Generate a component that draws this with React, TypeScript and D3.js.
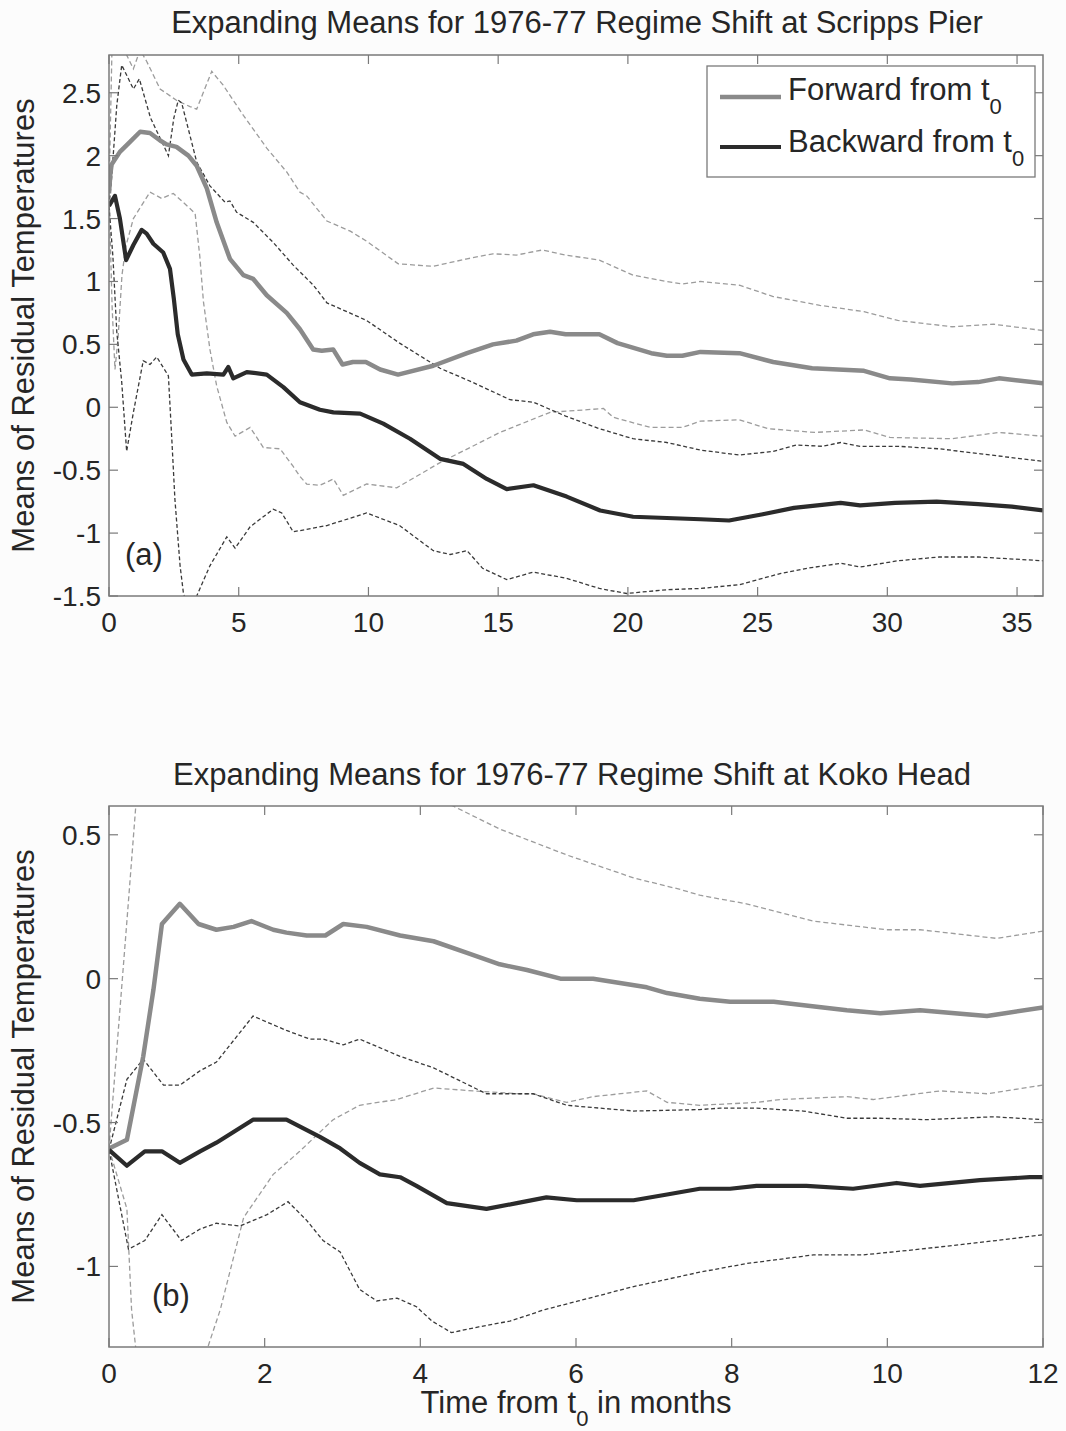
import React from "react";
import * as d3 from "d3";

type P = [number, number];

// ---------- Panel (a): Scripps Pier ----------
const scrippsXTicks = [0, 5, 10, 15, 20, 25, 30, 35];
const scrippsYTicks = [-1.5, -1, -0.5, 0, 0.5, 1, 1.5, 2, 2.5];

const scrippsForwardMean: P[] = [[0,1.70],[0.05,1.85],[0.1,1.93],[0.42,2.03],[0.81,2.11],[1.2,2.19],[1.58,2.18],[1.97,2.12],[2.22,2.09],[2.6,2.07],[3.06,2.0],[3.38,1.92],[3.77,1.74],[4.15,1.47],[4.66,1.18],[5.18,1.05],[5.56,1.02],[6.08,0.89],[6.85,0.75],[7.36,0.62],[7.87,0.46],[8.2,0.45],[8.64,0.46],[9.0,0.34],[9.4,0.36],[9.9,0.36],[10.45,0.30],[11.14,0.26],[12.5,0.33],[13.8,0.43],[14.8,0.50],[15.7,0.53],[16.35,0.58],[17.0,0.60],[17.6,0.58],[18.9,0.58],[19.6,0.51],[20.9,0.43],[21.5,0.41],[22.1,0.41],[22.8,0.44],[24.3,0.43],[25.6,0.36],[27.1,0.31],[29.1,0.29],[30.1,0.23],[30.9,0.22],[32.5,0.19],[33.5,0.20],[34.3,0.23],[36,0.19]];
const scrippsBackwardMean: P[] = [[0,1.60],[0.23,1.68],[0.42,1.50],[0.66,1.17],[0.94,1.29],[1.26,1.41],[1.45,1.38],[1.71,1.30],[2.09,1.23],[2.35,1.10],[2.5,0.86],[2.65,0.58],[2.87,0.38],[3.19,0.26],[3.77,0.27],[4.41,0.26],[4.6,0.32],[4.79,0.23],[5.31,0.28],[6.08,0.26],[6.72,0.16],[7.36,0.04],[8.13,-0.02],[8.65,-0.04],[9.68,-0.05],[10.57,-0.13],[11.6,-0.25],[12.76,-0.41],[13.66,-0.45],[14.56,-0.57],[15.33,-0.65],[16.36,-0.62],[17.64,-0.71],[18.93,-0.82],[20.2,-0.87],[21.5,-0.88],[22.8,-0.89],[23.9,-0.90],[25.2,-0.85],[26.4,-0.80],[28.2,-0.76],[28.95,-0.78],[30.3,-0.76],[31.9,-0.75],[33.5,-0.77],[34.8,-0.79],[36,-0.82]];
const scrippsForwardUpper: P[] = [[0,1.70],[0.15,3.2],[0.5,3.0],[0.68,2.8],[0.94,2.69],[1.2,2.84],[1.45,2.75],[1.97,2.53],[2.6,2.44],[3.12,2.39],[3.38,2.37],[3.96,2.67],[4.4,2.56],[5.18,2.32],[6.08,2.06],[6.85,1.87],[7.36,1.71],[7.62,1.68],[8.4,1.48],[9.3,1.40],[9.93,1.32],[11.15,1.14],[12.5,1.12],[13.8,1.18],[14.8,1.22],[15.7,1.21],[16.7,1.25],[17.6,1.21],[18.9,1.17],[20.2,1.05],[21.5,1.0],[22.1,0.98],[22.8,1.0],[24.3,0.97],[25.6,0.88],[27.4,0.81],[29.1,0.76],[30.4,0.69],[32.5,0.64],[34.1,0.66],[36,0.61]];
const scrippsForwardLower: P[] = [[0,1.70],[0.12,0.8],[0.23,0.3],[0.35,0.55],[0.5,1.05],[0.65,1.28],[0.94,1.50],[1.58,1.71],[2.03,1.66],[2.48,1.70],[3.12,1.58],[3.32,1.54],[3.5,1.2],[3.64,0.84],[3.89,0.46],[4.15,0.17],[4.54,-0.12],[4.86,-0.23],[5.44,-0.16],[5.95,-0.32],[6.59,-0.33],[7.1,-0.47],[7.36,-0.55],[7.62,-0.61],[8.13,-0.62],[8.65,-0.57],[9.03,-0.70],[9.93,-0.61],[11.09,-0.64],[12.76,-0.44],[15.07,-0.20],[17.0,-0.04],[19.06,-0.01],[19.44,-0.08],[20.86,-0.16],[22.1,-0.16],[22.8,-0.11],[24.3,-0.10],[25.4,-0.17],[27.2,-0.20],[29.1,-0.18],[30.1,-0.24],[32.5,-0.25],[34.3,-0.20],[36,-0.23]];
const scrippsBackwardUpper: P[] = [[0,1.60],[0.1,1.82],[0.3,2.4],[0.49,2.72],[0.94,2.53],[1.17,2.61],[1.6,2.3],[2.29,2.0],[2.5,2.3],[2.67,2.44],[2.8,2.42],[3.38,1.95],[3.89,1.76],[4.47,1.63],[4.66,1.64],[4.92,1.55],[5.56,1.47],[6.33,1.31],[7.1,1.13],[7.88,0.97],[8.4,0.83],[9.93,0.69],[11.2,0.51],[12.76,0.31],[14.0,0.20],[15.46,0.06],[16.36,0.04],[17.6,-0.07],[18.9,-0.17],[20.2,-0.25],[21.5,-0.28],[22.8,-0.34],[24.3,-0.38],[25.6,-0.35],[26.5,-0.30],[27.5,-0.31],[28.2,-0.28],[28.95,-0.31],[30.4,-0.31],[32.0,-0.33],[33.6,-0.37],[36,-0.43]];
const scrippsBackwardLower: P[] = [[0,1.60],[0.15,1.2],[0.3,0.6],[0.49,0.2],[0.68,-0.35],[0.94,-0.04],[1.32,0.37],[1.58,0.34],[1.84,0.40],[2.29,0.25],[2.42,-0.25],[2.54,-0.73],[2.74,-1.26],[2.87,-1.48],[3.1,-1.62],[3.38,-1.50],[3.89,-1.26],[4.54,-1.03],[4.86,-1.12],[5.44,-0.95],[6.33,-0.81],[6.66,-0.84],[7.1,-0.99],[7.62,-0.97],[8.4,-0.94],[9.93,-0.84],[11.2,-0.94],[12.5,-1.14],[13.15,-1.17],[13.8,-1.14],[14.4,-1.28],[15.33,-1.37],[16.36,-1.31],[17.64,-1.36],[18.9,-1.44],[19.95,-1.48],[21.5,-1.45],[22.8,-1.44],[24.3,-1.41],[25.9,-1.32],[26.9,-1.28],[28.2,-1.24],[28.95,-1.27],[30.4,-1.22],[32.0,-1.19],[33.5,-1.19],[36,-1.22]];

// ---------- Panel (b): Koko Head ----------
const kokoXTicks = [0, 2, 4, 6, 8, 10, 12];
const kokoYTicks = [-1, -0.5, 0, 0.5];

const kokoForwardMean: P[] = [[0,-0.59],[0.23,-0.56],[0.44,-0.27],[0.57,-0.04],[0.68,0.19],[0.91,0.26],[1.15,0.19],[1.38,0.17],[1.6,0.18],[1.83,0.20],[2.11,0.17],[2.28,0.16],[2.54,0.15],[2.78,0.15],[3.01,0.19],[3.31,0.18],[3.74,0.15],[4.17,0.13],[4.6,0.09],[5.02,0.05],[5.37,0.03],[5.8,0.0],[6.22,0.0],[6.91,-0.03],[7.17,-0.05],[7.59,-0.07],[7.98,-0.08],[8.54,-0.08],[9.48,-0.11],[9.91,-0.12],[10.42,-0.11],[11.28,-0.13],[12,-0.10]];
const kokoBackwardMean: P[] = [[0,-0.595],[0.23,-0.65],[0.46,-0.60],[0.68,-0.60],[0.91,-0.64],[1.17,-0.60],[1.38,-0.57],[1.85,-0.49],[2.28,-0.49],[2.71,-0.55],[2.97,-0.59],[3.22,-0.64],[3.48,-0.68],[3.74,-0.69],[3.95,-0.72],[4.34,-0.78],[4.85,-0.80],[5.24,-0.78],[5.62,-0.76],[6.01,-0.77],[6.74,-0.77],[7.17,-0.75],[7.59,-0.73],[7.98,-0.73],[8.32,-0.72],[8.96,-0.72],[9.56,-0.73],[10.12,-0.71],[10.42,-0.72],[11.19,-0.70],[11.83,-0.69],[12,-0.69]];
const kokoForwardUpper: P[] = [[0,-0.59],[0.23,0.2],[0.35,0.62],[0.46,0.95],[0.68,1.5],[0.91,1.6],[1.17,1.5],[1.43,1.45],[2.0,1.1],[2.5,0.9],[3.0,0.8],[3.5,0.72],[4.0,0.65],[4.42,0.60],[5.02,0.52],[5.88,0.43],[6.74,0.35],[7.34,0.31],[7.59,0.29],[8.19,0.26],[9.05,0.20],[9.99,0.17],[10.42,0.17],[11.4,0.14],[12,0.165]];
const kokoForwardLower: P[] = [[0,-0.59],[0.23,-0.8],[0.29,-1.15],[0.35,-1.3],[0.5,-1.9],[1.0,-1.9],[1.27,-1.28],[1.43,-1.15],[1.73,-0.83],[2.11,-0.68],[2.45,-0.60],[2.88,-0.49],[3.22,-0.44],[3.7,-0.42],[4.17,-0.38],[4.68,-0.39],[5.28,-0.40],[5.45,-0.40],[5.88,-0.43],[6.22,-0.41],[6.91,-0.39],[7.17,-0.43],[7.59,-0.44],[8.32,-0.43],[8.62,-0.42],[9.48,-0.41],[9.82,-0.42],[10.68,-0.39],[11.28,-0.40],[12,-0.37]];
const kokoBackwardUpper: P[] = [[0,-0.595],[0.23,-0.35],[0.44,-0.28],[0.7,-0.37],[0.91,-0.37],[1.17,-0.32],[1.38,-0.29],[1.85,-0.13],[2.28,-0.18],[2.58,-0.21],[2.75,-0.21],[3.01,-0.23],[3.22,-0.21],[3.74,-0.27],[4.17,-0.31],[4.85,-0.40],[5.45,-0.40],[5.88,-0.44],[6.74,-0.46],[7.59,-0.455],[7.85,-0.45],[8.32,-0.45],[8.92,-0.46],[9.48,-0.485],[9.91,-0.485],[10.5,-0.49],[11.36,-0.48],[12,-0.49]];
const kokoBackwardLower: P[] = [[0,-0.595],[0.25,-0.94],[0.46,-0.91],[0.68,-0.82],[0.93,-0.91],[1.17,-0.87],[1.38,-0.85],[1.68,-0.86],[2.03,-0.82],[2.3,-0.775],[2.54,-0.84],[2.75,-0.91],[2.97,-0.95],[3.22,-1.08],[3.44,-1.12],[3.7,-1.11],[3.95,-1.14],[4.15,-1.19],[4.4,-1.23],[4.75,-1.21],[5.15,-1.19],[5.6,-1.15],[6.03,-1.12],[6.74,-1.07],[7.59,-1.02],[8.19,-0.99],[9.05,-0.96],[9.69,-0.96],[10.42,-0.94],[11.4,-0.91],[12,-0.89]];

const legendLabels = ["Forward from t", "Backward from t"];

const FONT = "'Liberation Sans', Arial, Helvetica, sans-serif";
const TEXT = "#262626";
const AXIS = "#7a7a7a";
const LABEL_SIZE = 31;
const TICK_SIZE = 28;

type PanelProps = {
  id: string;
  box: { left: number; right: number; top: number; bottom: number };
  xDomain: [number, number];
  yDomain: [number, number];
  xTicks: number[];
  yTicks: number[];
  title: string;
  titleX: number;
  titleY: number;
  tag: string;
  tagX: number;
  tagY: number;
  fMean: P[]; bMean: P[]; fUp: P[]; fLo: P[]; bUp: P[]; bLo: P[];
  legend?: boolean;
};

function Panel(p: PanelProps) {
  const { left, right, top, bottom } = p.box;
  const x = d3.scaleLinear().domain(p.xDomain).range([left, right]);
  const y = d3.scaleLinear().domain(p.yDomain).range([bottom, top]);
  const line = d3.line<P>().x(d => x(d[0])).y(d => y(d[1]));
  const clip = `clip-${p.id}`;
  const tl = 9;
  const cy = (top + bottom) / 2;
  return (
    <g>
      <defs>
        <clipPath id={clip}>
          <rect x={left} y={top} width={right - left} height={bottom - top} />
        </clipPath>
      </defs>
      <rect x={left} y={top} width={right - left} height={bottom - top} fill="#ffffff" />
      <text x={p.titleX} y={p.titleY} textAnchor="middle" fontSize={LABEL_SIZE} fill={TEXT} fontFamily={FONT}>{p.title}</text>
      <g clipPath={`url(#${clip})`}>
        <path d={line(p.fUp) || ""} fill="none" stroke="#9c9c9c" strokeWidth={1.3} strokeDasharray="5,3" />
        <path d={line(p.fLo) || ""} fill="none" stroke="#9c9c9c" strokeWidth={1.3} strokeDasharray="5,3" />
        <path d={line(p.bUp) || ""} fill="none" stroke="#3a3a3a" strokeWidth={1.3} strokeDasharray="4,2.5" />
        <path d={line(p.bLo) || ""} fill="none" stroke="#3a3a3a" strokeWidth={1.3} strokeDasharray="4,2.5" />
        <path d={line(p.fMean) || ""} fill="none" stroke="#8a8a8a" strokeWidth={4.5} strokeLinejoin="round" />
        <path d={line(p.bMean) || ""} fill="none" stroke="#2b2b2b" strokeWidth={4.2} strokeLinejoin="round" />
      </g>
      {p.xTicks.map(t => (
        <g key={`xt${t}`}>
          <line x1={x(t)} x2={x(t)} y1={bottom} y2={bottom - tl} stroke={AXIS} strokeWidth={1.2} />
          <line x1={x(t)} x2={x(t)} y1={top} y2={top + tl} stroke={AXIS} strokeWidth={1.2} />
          <text x={x(t)} y={bottom + 36} textAnchor="middle" fontSize={TICK_SIZE} fill={TEXT} fontFamily={FONT}>{String(t)}</text>
        </g>
      ))}
      {p.yTicks.map(t => (
        <g key={`yt${t}`}>
          <line x1={left} x2={left + tl} y1={y(t)} y2={y(t)} stroke={AXIS} strokeWidth={1.2} />
          <line x1={right} x2={right - tl} y1={y(t)} y2={y(t)} stroke={AXIS} strokeWidth={1.2} />
          <text x={101} y={y(t) + 10} textAnchor="end" fontSize={TICK_SIZE} fill={TEXT} fontFamily={FONT}>{String(t)}</text>
        </g>
      ))}
      <rect x={left} y={top} width={right - left} height={bottom - top} fill="none" stroke={AXIS} strokeWidth={1.5} />
      <text transform={`translate(34,${cy}) rotate(-90)`} textAnchor="middle" fontSize={LABEL_SIZE} fill={TEXT} fontFamily={FONT}>Means of Residual Temperatures</text>
      <text x={p.tagX} y={p.tagY} fontSize={LABEL_SIZE} fill={TEXT} fontFamily={FONT}>{p.tag}</text>
      {p.legend && (
        <g fontFamily={FONT} fill={TEXT}>
          <rect x={707} y={66} width={328} height={111} fill="#ffffff" stroke={AXIS} strokeWidth={1.3} />
          <line x1={720} x2={781} y1={97} y2={97} stroke="#8a8a8a" strokeWidth={4.5} />
          <line x1={720} x2={781} y1={147} y2={147} stroke="#2b2b2b" strokeWidth={4.2} />
          <text x={788} y={100} fontSize={LABEL_SIZE}>{legendLabels[0]}<tspan fontSize={22} dy={14}>0</tspan></text>
          <text x={788} y={152} fontSize={LABEL_SIZE}>{legendLabels[1]}<tspan fontSize={22} dy={14}>0</tspan></text>
        </g>
      )}
    </g>
  );
}

export default function App() {
  return (
    <svg width={1066} height={1431} viewBox="0 0 1066 1431"
      style={{ position: "absolute", left: 0, top: 0, background: "#fcfcfc" }}>
      <rect x={0} y={0} width={1066} height={1431} fill="#fcfcfc" />
      <Panel id="a" box={{ left: 109, right: 1043, top: 55, bottom: 596 }}
        xDomain={[0, 36]} yDomain={[-1.5, 2.8]} xTicks={scrippsXTicks} yTicks={scrippsYTicks}
        title="Expanding Means for 1976-77 Regime Shift at Scripps Pier" titleX={577} titleY={33}
        tag="(a)" tagX={125} tagY={565}
        fMean={scrippsForwardMean} bMean={scrippsBackwardMean}
        fUp={scrippsForwardUpper} fLo={scrippsForwardLower}
        bUp={scrippsBackwardUpper} bLo={scrippsBackwardLower} legend />
      <Panel id="b" box={{ left: 109, right: 1043, top: 806, bottom: 1347 }}
        xDomain={[0, 12]} yDomain={[-1.28, 0.6]} xTicks={kokoXTicks} yTicks={kokoYTicks}
        title="Expanding Means for 1976-77 Regime Shift at Koko Head" titleX={572} titleY={785}
        tag="(b)" tagX={152} tagY={1306}
        fMean={kokoForwardMean} bMean={kokoBackwardMean}
        fUp={kokoForwardUpper} fLo={kokoForwardLower}
        bUp={kokoBackwardUpper} bLo={kokoBackwardLower} />
      <text x={576} y={1413} textAnchor="middle" fontSize={LABEL_SIZE} fill={TEXT} fontFamily={FONT}>
        Time from t<tspan fontSize={22} dy={13}>0</tspan><tspan dy={-13}> in months</tspan>
      </text>
    </svg>
  );
}
